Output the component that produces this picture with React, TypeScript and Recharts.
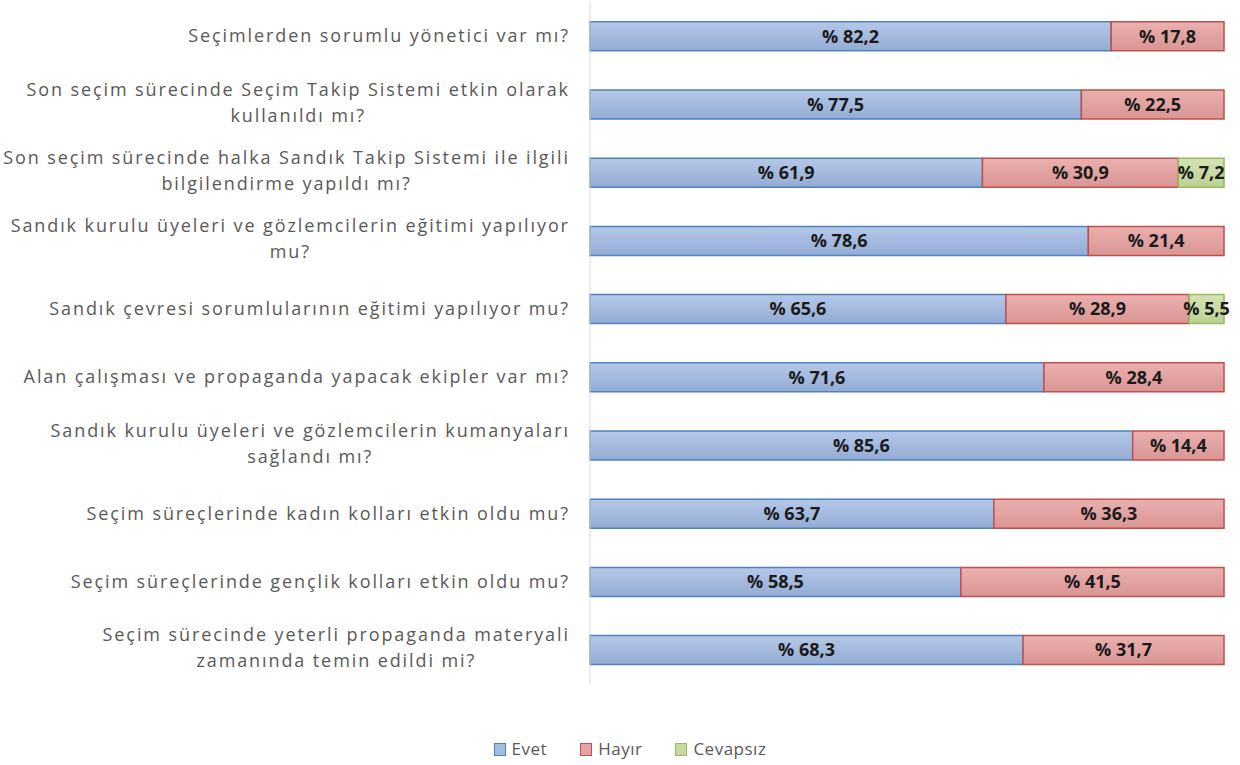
import React from 'react';
import { BarChart, Bar, XAxis, YAxis, Legend, LabelList } from 'recharts';

const categories = [
  'Seçimlerden sorumlu yönetici var mı?',
  'Son seçim sürecinde Seçim Takip Sistemi etkin olarak\nkullanıldı mı?',
  'Son seçim sürecinde halka Sandık Takip Sistemi ile ilgili\nbilgilendirme yapıldı mı?',
  'Sandık kurulu üyeleri ve gözlemcilerin eğitimi yapılıyor\nmu?',
  'Sandık çevresi sorumlularının eğitimi yapılıyor mu?',
  'Alan çalışması ve propaganda yapacak ekipler var mı?',
  'Sandık kurulu üyeleri ve gözlemcilerin kumanyaları\nsağlandı mı?',
  'Seçim süreçlerinde kadın kolları etkin oldu mu?',
  'Seçim süreçlerinde gençlik kolları etkin oldu mu?',
  'Seçim sürecinde yeterli propaganda materyali\nzamanında temin edildi mi?',
];
const evet = [82.2, 77.5, 61.9, 78.6, 65.6, 71.6, 85.6, 63.7, 58.5, 68.3];
const hayir = [17.8, 22.5, 30.9, 21.4, 28.9, 28.4, 14.4, 36.3, 41.5, 31.7];
const cevapsiz = [null, null, 7.2, null, 5.5, null, null, null, null, null];

const data = categories.map((c, i) => ({
  name: c,
  Evet: evet[i],
  'Hayır': hayir[i],
  'Cevapsız': cevapsiz[i],
}));

const FONT = '"Open Sans", sans-serif';
const CAT_FONT_SIZE = 18;
const CAT_LS = 1.9;

let ctx: CanvasRenderingContext2D | null = null;
const measure = (t: string) => {
  if (!ctx) ctx = document.createElement('canvas').getContext('2d');
  if (!ctx) return t.length * 10;
  ctx.font = `${CAT_FONT_SIZE}px ${FONT}`;
  return ctx.measureText(t).width + CAT_LS * t.length;
};

const CatTick = (props: any) => {
  const { x, y, payload } = props;
  const lines: string[] = String(payload.value).split('\n');
  const common = { fill: '#595959', fontSize: CAT_FONT_SIZE, fontFamily: FONT, letterSpacing: CAT_LS };
  if (lines.length === 1) {
    return (
      <text x={x + CAT_LS} y={y} dy="0.35em" textAnchor="end" {...common}>
        {lines[0]}
      </text>
    );
  }
  const w = measure(lines[0]);
  const cx = x + CAT_LS - w / 2;
  return (
    <g>
      <text x={cx} y={y - 15} dy="0.35em" textAnchor="middle" {...common}>
        {lines[0]}
      </text>
      <text x={cx} y={y + 11} dy="0.35em" textAnchor="middle" {...common}>
        {lines[1]}
      </text>
    </g>
  );
};

const fmt = (v: any) => (v == null || v === 0 ? '' : `% ${String(v).replace('.', ',')}`);

const ValueLabel = (props: any) => {
  const { x, y, width, height, value } = props;
  const t = fmt(value);
  if (!t) return null;
  return (
    <text
      x={x + width / 2}
      y={y + height / 2}
      dy="0.35em"
      textAnchor="middle"
      fill="#1a1a1a"
      fontSize={18}
      fontWeight={700}
      fontFamily={FONT}
    >
      {t}
    </text>
  );
};

const legendPayload = [
  { value: 'Evet', color: '#4f81bd', fill: '#a7bde0' },
  { value: 'Hayır', color: '#c0504d', fill: '#e2a3a2' },
  { value: 'Cevapsız', color: '#9bbb59', fill: '#c6d9a3' },
];

const LegendContent = () => (
  <div style={{ display: 'flex', justifyContent: 'center', gap: 33, fontFamily: FONT, fontSize: 17, letterSpacing: 0.5, color: '#595959', paddingLeft: 20, lineHeight: '22px' }}>
    {legendPayload.map((p) => (
      <div key={p.value} style={{ display: 'flex', alignItems: 'center', gap: 6 }}>
        <span style={{ display: 'inline-block', width: 10, height: 11, background: p.fill, border: `1px solid ${p.color}` }} />
        <span>{p.value}</span>
      </div>
    ))}
  </div>
);

export default function App() {
  return (
    <div style={{ position: 'absolute', left: 0, top: 0, background: '#fff' }}>
      <BarChart
        width={1240}
        height={765}
        data={data}
        layout="vertical"
        barCategoryGap="29%"
        margin={{ top: 2, right: 16, bottom: 59, left: 0 }}
      >
        <defs>
          <linearGradient id="gBlue" x1="0" y1="0" x2="0" y2="1">
            <stop offset="0%" stopColor="#b5c8e8" />
            <stop offset="100%" stopColor="#93abd4" />
          </linearGradient>
          <linearGradient id="gRed" x1="0" y1="0" x2="0" y2="1">
            <stop offset="0%" stopColor="#eab0af" />
            <stop offset="100%" stopColor="#d99594" />
          </linearGradient>
          <linearGradient id="gGreen" x1="0" y1="0" x2="0" y2="1">
            <stop offset="0%" stopColor="#d3e3b4" />
            <stop offset="100%" stopColor="#bcd195" />
          </linearGradient>
        </defs>
        <XAxis type="number" domain={[0, 100]} hide />
        <YAxis
          type="category"
          dataKey="name"
          width={590}
          axisLine={{ stroke: '#d9d9d9' }}
          tickLine={false}
          tickSize={0}
          tickMargin={22}
          tick={<CatTick />}
          interval={0}
        />
        <Legend
          verticalAlign="bottom"
          content={<LegendContent />}
          wrapperStyle={{ position: 'absolute', top: 738, left: 0, width: 1240 }}
        />
        <Bar dataKey="Evet" stackId="a" fill="url(#gBlue)" stroke="#4f81bd" strokeWidth={1.5} isAnimationActive={false}>
          <LabelList dataKey="Evet" content={<ValueLabel />} />
        </Bar>
        <Bar dataKey="Hayır" stackId="a" fill="url(#gRed)" stroke="#c0504d" strokeWidth={1.5} isAnimationActive={false}>
          <LabelList dataKey="Hayır" content={<ValueLabel />} />
        </Bar>
        <Bar dataKey="Cevapsız" stackId="a" fill="url(#gGreen)" stroke="#9bbb59" strokeWidth={1.5} isAnimationActive={false}>
          <LabelList dataKey="Cevapsız" content={<ValueLabel />} />
        </Bar>
      </BarChart>
    </div>
  );
}
